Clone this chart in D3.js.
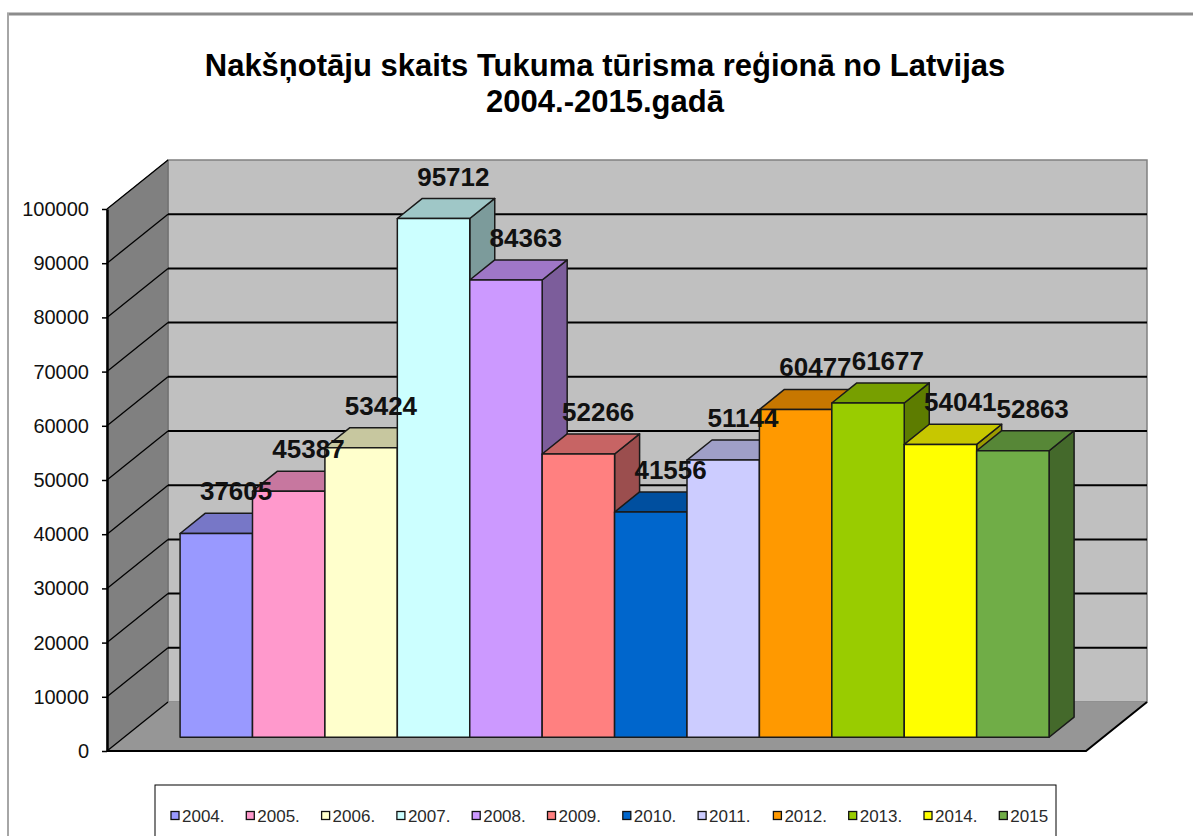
<!DOCTYPE html>
<html>
<head>
<meta charset="utf-8">
<script src="https://cdn.jsdelivr.net/npm/d3@7"></script>
<style>
body{margin:0;background:#fff}
svg{display:block;font-family:"Liberation Sans",Arial,sans-serif}
</style>
</head>
<body>
<svg id="chart" width="1193" height="836"></svg>
<script>
// data
const years = ["2004.","2005.","2006.","2007.","2008.","2009.","2010.","2011.","2012.","2013.","2014.","2015"];
const values = [37605, 45387, 53424, 95712, 84363, 52266, 41556, 51144, 60477, 61677, 54041, 52863];
const colors = ["#9999FF","#FF99CC","#FFFFCC","#CCFFFF","#CC99FF","#FF8080","#0066CC","#CCCCFF","#FF9900","#99CC00","#FFFF00","#70AD47"];
const yTicks = [0,10000,20000,30000,40000,50000,60000,70000,80000,90000,100000];
const titleLines = ["Nakšņotāju skaits Tukuma tūrisma reģionā no Latvijas", "2004.-2015.gadā"];

// 3d box: front plane z=0, back wall z=1
const depth = {dx: 61, dy: -49};
const barZ = [0.28, 0.69];
const floorX = [107, 1086];

const x = d3.scaleBand().domain(years).range([163, 1032]).padding(0);
const y = d3.scaleLinear().domain([0, 100000]).range([751, 209]);

const P = (px, py, z) => [px + z*depth.dx, py + z*depth.dy];
const poly = pts => "M" + pts.map(p => p.join(",")).join("L") + "Z";

const svg = d3.select("#chart");

// outer frame
svg.append("line").attr("x1",7).attr("x2",1193).attr("y1",14).attr("y2",14)
  .attr("stroke","#8c8c8c").attr("stroke-width",3);
svg.append("line").attr("x1",8).attr("x2",8).attr("y1",13).attr("y2",836)
  .attr("stroke","#a6a6a6").attr("stroke-width",2);

// title
svg.append("text")
  .attr("x", 605).attr("y", 76)
  .attr("text-anchor","middle")
  .style("font-size","31px").style("font-weight","bold")
  .selectAll("tspan").data(titleLines).join("tspan")
    .attr("x", 605).attr("dy", (d,i) => i ? 36 : 0)
    .text(d => d);

const y0 = y(0), yMax = y(100000);

// walls and floor
svg.append("path")
  .attr("d", poly([P(floorX[0],yMax,1), P(floorX[1],yMax,1), P(floorX[1],y0,1), P(floorX[0],y0,1)]))
  .attr("fill","#c0c0c0").attr("stroke","#808080").attr("stroke-width",1.5);
svg.append("path")
  .attr("d", poly([P(floorX[0],y0,0), P(floorX[0],yMax,0), P(floorX[0],yMax,1), P(floorX[0],y0,1)]))
  .attr("fill","#808080").attr("stroke","#6a6a6a").attr("stroke-width",1);
svg.append("path")
  .attr("d", poly([P(floorX[0],y0,0), P(floorX[1],y0,0), P(floorX[1],y0,1), P(floorX[0],y0,1)]))
  .attr("fill","#969696");

// gridlines
svg.append("g").selectAll("line").data(yTicks.filter(t => t > 0 && t < 100000)).join("line")
  .attr("x1", t => P(floorX[0],y(t),1)[0]).attr("y1", t => P(floorX[0],y(t),1)[1])
  .attr("x2", t => P(floorX[1],y(t),1)[0]).attr("y2", t => P(floorX[1],y(t),1)[1])
  .attr("stroke","#000").attr("stroke-width",2);
svg.append("g").selectAll("line").data(yTicks).join("line")
  .attr("x1", t => P(floorX[0],y(t),0)[0]).attr("y1", t => P(floorX[0],y(t),0)[1])
  .attr("x2", t => P(floorX[0],y(t),1)[0]).attr("y2", t => P(floorX[0],y(t),1)[1])
  .attr("stroke","#000").attr("stroke-width",1.3);

// floor edges
svg.append("path")
  .attr("d", "M" + [P(floorX[0],y0,0), P(floorX[1],y0,0), P(floorX[1],y0,1)].map(p => p.join(",")).join("L"))
  .attr("fill","none").attr("stroke","#000").attr("stroke-width",2);

// bars, left to right so each one covers the side of the previous
const bw = x.bandwidth();
const bars = svg.append("g").selectAll("g").data(values).join("g");
bars.each(function(v, i){
  const g = d3.select(this);
  const x0 = x(years[i]), x1 = x0 + bw, yt = y(v);
  const c = d3.color(colors[i]);
  g.append("path")
    .attr("d", poly([P(x1,yt,barZ[0]), P(x1,yt,barZ[1]), P(x1,y0,barZ[1]), P(x1,y0,barZ[0])]))
    .attr("fill", c.darker(1.4)).attr("stroke","#1a1a1a").attr("stroke-width",1.5).attr("stroke-linejoin","round");
  g.append("path")
    .attr("d", poly([P(x0,yt,barZ[0]), P(x1,yt,barZ[0]), P(x1,yt,barZ[1]), P(x0,yt,barZ[1])]))
    .attr("fill", c.darker(0.7)).attr("stroke","#1a1a1a").attr("stroke-width",1.5).attr("stroke-linejoin","round");
  g.append("path")
    .attr("d", poly([P(x0,yt,barZ[0]), P(x1,yt,barZ[0]), P(x1,y0,barZ[0]), P(x0,y0,barZ[0])]))
    .attr("fill", c).attr("stroke","#1a1a1a").attr("stroke-width",1.5).attr("stroke-linejoin","round");
});

// value labels
svg.append("g").selectAll("text").data(values).join("text")
  .attr("x", (v,i) => P(x(years[i]),0,barZ[0])[0] + 56)
  .attr("y", v => P(0,y(v),barZ[0])[1] - 33)
  .attr("text-anchor","middle")
  .style("font-size","26px").style("font-weight","bold")
  .attr("fill","#111")
  .text(v => v);

// y axis
const axis = svg.append("g")
  .attr("transform", `translate(${floorX[0]},0)`)
  .call(d3.axisLeft(y).tickValues(yTicks).tickSize(5).tickSizeOuter(0).tickPadding(13).tickFormat(d3.format("d")));
axis.select(".domain").attr("stroke","#000").attr("stroke-width",2.5);
axis.selectAll(".tick line").attr("stroke","#000").attr("stroke-width",1.5);
axis.selectAll(".tick text").style("font-size","20px").style("font-family","'Liberation Sans',Arial,sans-serif").attr("fill","#111");

// legend
const lx = d3.scaleBand().domain(years).range([167, 167 + 75.3*years.length]);
svg.append("rect").attr("x",155).attr("y",785).attr("width",901).attr("height",80)
  .attr("fill","#fff").attr("stroke","#000").attr("stroke-width",1);
const li = svg.append("g").selectAll("g").data(years).join("g")
  .attr("transform", d => `translate(${lx(d)},0)`);
li.append("rect").attr("x",4).attr("y",811.5).attr("width",8).attr("height",8)
  .attr("fill",(d,i) => colors[i]).attr("stroke","#111").attr("stroke-width",1.3);
li.append("text").attr("x",15).attr("y",822)
  .style("font-size","17px").attr("fill","#2a2a2a")
  .text(d => d);
</script>
</body>
</html>
